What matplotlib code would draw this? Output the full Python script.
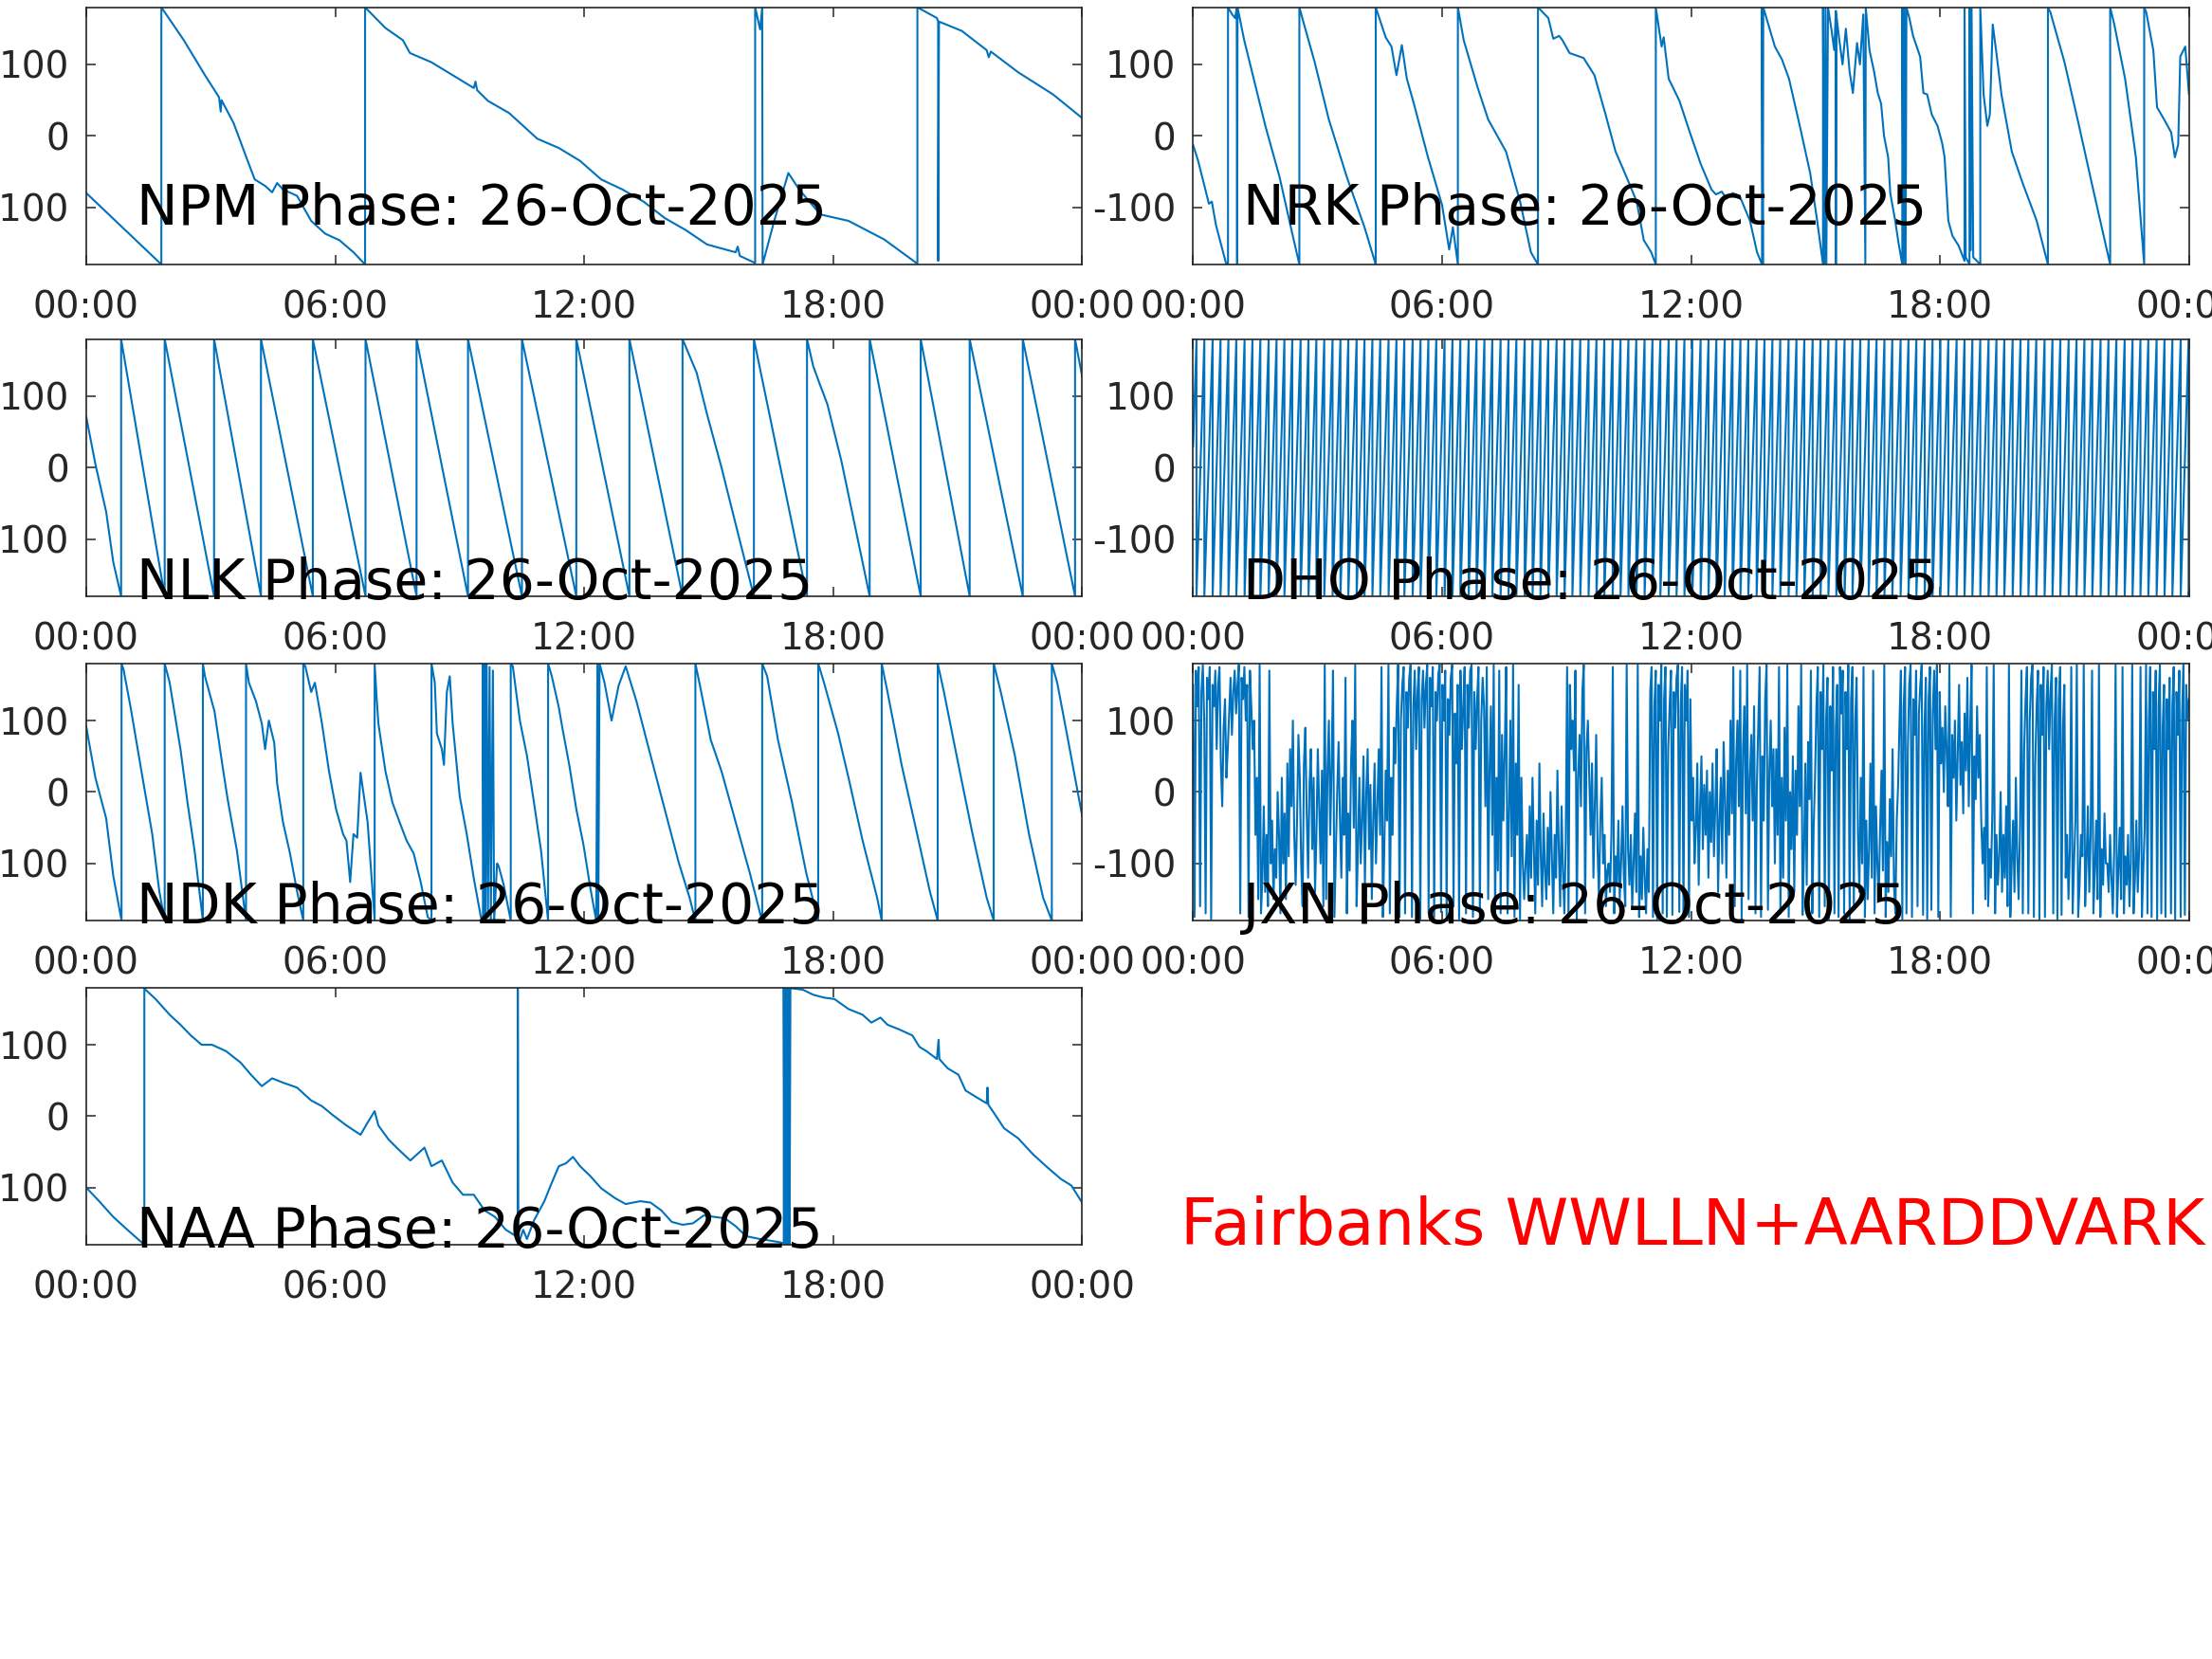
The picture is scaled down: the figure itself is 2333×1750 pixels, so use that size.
"""VLF transmitter phase, one day, seven stations (Fairbanks receiver)."""
import matplotlib
matplotlib.use("Agg")
import matplotlib.pyplot as plt
import numpy as np

plt.rcParams["axes.unicode_minus"] = False
plt.rcParams["font.family"] = "DejaVu Sans"

DAY = "26-Oct-2025"
BLUE = "#0072BD"
GREY = "#262626"

# (hour, phase deg) vertices; wraps are two points at one hour
npm = [(0, -80), (1.81, -180), (1.81, 180), (2.35, 134), (2.86, 85), (3.2, 54), (3.24, 34),
       (3.26, 50), (3.55, 18), (3.89, -35), (4.06, -61), (4.31, -70), (4.48, -79), (4.6, -66),
       (4.74, -75), (5.08, -84), (5.42, -119), (5.76, -137), (6.1, -146), (6.44, -163),
       (6.72, -180), (6.72, 180), (7.21, 151), (7.63, 134), (7.8, 116), (8.32, 103), (8.83, 85),
       (9.34, 67), (9.38, 76), (9.42, 64), (9.68, 49), (10.19, 32), (10.53, 14), (10.87, -4),
       (11.39, -17), (11.9, -35), (12.41, -61), (12.92, -75), (13.43, -92), (13.94, -115),
       (14.45, -132), (14.96, -152), (15.65, -163), (15.7, -155), (15.75, -168), (16.12, -178),
       (16.12, 180), (16.24, 149), (16.29, 180), (16.3, -180), (16.58, -119), (16.92, -52),
       (17.18, -75), (17.69, -110), (18.37, -119), (19.23, -145), (20.03, -179), (20.03, 180),
       (20.5, 165), (20.53, 160), (20.53, -175), (20.55, 160), (21.1, 147), (21.7, 120),
       (21.75, 110), (21.8, 118), (22.46, 89), (23.3, 58), (24, 25)]

nrk = [(0, -13), (0.12, -35), (0.38, -95), (0.45, -92), (0.55, -125), (0.8, -180), (0.84, -180),
       (0.84, 180), (0.94, 170), (1.01, 165), (1.05, 178), (1.06, -180), (1.07, 180), (1.23, 134),
       (1.74, 14), (2.08, -57), (2.39, -137), (2.56, -180), (2.56, 180), (2.63, 165), (2.93, 103),
       (3.27, 23), (3.7, -57), (4.13, -128), (4.4, -180), (4.4, 180), (4.64, 138), (4.78, 125),
       (4.9, 85), (5.03, 127), (5.15, 80), (5.32, 45), (5.66, -30), (6.0, -97), (6.17, -159),
       (6.26, -128), (6.38, -180), (6.38, 180), (6.52, 134), (6.86, 67), (7.11, 23), (7.54, -22),
       (7.88, -92), (8.14, -163), (8.31, -180), (8.31, 180), (8.56, 165), (8.68, 136), (8.82, 140),
       (8.9, 134), (9.07, 116), (9.41, 109), (9.67, 85), (9.93, 32), (10.18, -22), (10.44, -57),
       (10.69, -92), (10.86, -146), (11.04, -163), (11.15, -180), (11.15, 180), (11.29, 125),
       (11.34, 138), (11.46, 80), (11.72, 49), (11.97, 5), (12.23, -39), (12.49, -75), (12.6, -82),
       (12.74, -78), (12.85, -88), (13.0, -80), (13.17, -84), (13.42, -119), (13.59, -163),
       (13.71, -180), (13.71, 180), (13.73, -180), (13.74, 180), (14.02, 125), (14.19, 107),
       (14.36, 80), (14.62, 14), (14.87, -52), (15.04, -119), (15.18, -180), (15.18, 180),
       (15.21, -180), (15.24, 180), (15.26, -180), (15.3, 180), (15.38, 150), (15.45, 120),
       (15.49, 175), (15.49, -180), (15.5, 170), (15.56, 140), (15.65, 100), (15.73, 150),
       (15.82, 90), (15.9, 60), (16.0, 130), (16.07, 100), (16.15, 170), (16.2, -180), (16.21, 180),
       (16.3, 120), (16.41, 90), (16.5, 60), (16.58, 45), (16.65, 0), (16.75, -30), (16.8, -80),
       (16.92, -119), (17.0, -150), (17.09, -180), (17.09, 180), (17.12, -180), (17.14, 180),
       (17.17, -180), (17.19, 180), (17.26, 165), (17.35, 140), (17.52, 111), (17.6, 60),
       (17.69, 58), (17.8, 30), (17.94, 14), (18.05, -10), (18.11, -30), (18.2, -119), (18.3, -140),
       (18.45, -154), (18.59, -175), (18.59, 180), (18.62, -170), (18.71, -180), (18.71, 180),
       (18.74, -160), (18.76, 180), (18.8, -170), (18.97, -180), (18.97, 180), (19.05, 58),
       (19.14, 14), (19.2, 30), (19.27, 156), (19.35, 120), (19.48, 58), (19.73, -22),
       (19.99, -66), (20.33, -119), (20.6, -180), (20.6, 180), (20.66, 173), (21.0, 103),
       (21.35, 14), (21.69, -75), (22.1, -180), (22.1, 180), (22.2, 156), (22.46, 80),
       (22.72, -30), (22.92, -180), (22.92, 180), (22.97, 173), (23.14, 120), (23.23, 40),
       (23.4, 23), (23.57, 5), (23.66, -30), (23.74, -12), (23.79, 111), (23.91, 125), (24, 58)]

nlk = [(0, 71), (0.22, 5), (0.48, -62), (0.65, -132), (0.84, -180), (0.84, 180), (1.89, -180),
       (1.89, 180), (3.08, -180), (3.08, 180), (4.21, -180), (4.21, 180), (5.46, -180),
       (5.46, 180), (6.73, -180), (6.73, 180), (7.96, -180), (7.96, 180), (8.15, 124),
       (9.2, -180), (9.2, 180), (10.5, -180), (10.5, 180), (11.81, -180), (11.81, 180),
       (13.09, -180), (13.09, 180), (14.37, -180), (14.37, 180), (14.71, 133), (14.96, 75),
       (15.31, 0), (15.65, -79), (16.09, -180), (16.09, 180), (17.37, -180), (17.37, 180),
       (17.52, 142), (17.69, 115), (17.86, 89), (18.2, 9), (18.88, -180), (18.88, 180),
       (20.11, -180), (20.11, 180), (21.29, -180), (21.29, 180), (22.57, -180), (22.57, 180),
       (23.83, -180), (23.83, 180), (24, 128)]

ndk = [(0, 91), (0.22, 20), (0.48, -37), (0.65, -117), (0.85, -180), (0.85, 180), (0.9, 171),
       (1.07, 118), (1.33, 29), (1.59, -59), (1.76, -139), (1.89, -180), (1.89, 180), (2.01, 153),
       (2.27, 60), (2.44, -15), (2.61, -82), (2.81, -180), (2.81, 180), (2.86, 162), (3.09, 113),
       (3.29, 34), (3.41, -11), (3.63, -82), (3.85, -180), (3.85, 180), (3.92, 153), (4.09, 127),
       (4.23, 96), (4.31, 60), (4.4, 100), (4.53, 69), (4.6, 12), (4.74, -42), (4.91, -86),
       (5.08, -139), (5.23, -180), (5.23, 180), (5.28, 176), (5.42, 140), (5.51, 153), (5.68, 96),
       (5.85, 29), (6.02, -24), (6.19, -59), (6.27, -68), (6.36, -126), (6.44, -59), (6.53, -64),
       (6.61, 27), (6.78, -42), (6.95, -180), (6.95, 180), (7.0, 130), (7.04, 96), (7.21, 29),
       (7.38, -15), (7.55, -42), (7.72, -68), (7.89, -86), (8.06, -126), (8.23, -175), (8.32, -180),
       (8.32, 180), (8.4, 153), (8.45, 82), (8.57, 60), (8.62, 38), (8.69, 140), (8.76, 162),
       (8.83, 96), (9.0, -6), (9.17, -59), (9.34, -121), (9.51, -175), (9.56, -180), (9.56, 180),
       (9.58, -180), (9.6, 180), (9.62, -170), (9.65, 180), (9.68, -175), (9.72, 175),
       (9.75, -178), (9.8, 170), (9.83, -180), (9.9, -100), (9.94, -104), (10.06, -130),
       (10.23, -180), (10.23, 180), (10.28, 176), (10.45, 100), (10.62, 51), (10.79, -15),
       (10.96, -82), (11.13, -180), (11.13, 180), (11.22, 162), (11.39, 118), (11.47, 91),
       (11.64, 38), (11.81, -24), (11.98, -73), (12.15, -135), (12.29, -180), (12.32, 180),
       (12.34, -180), (12.37, 180), (12.49, 153), (12.66, 100), (12.83, 149), (13.0, 176),
       (13.26, 127), (13.6, 51), (13.94, -24), (14.28, -99), (14.54, -148), (14.68, -180),
       (14.68, 180), (14.79, 149), (15.05, 73), (15.31, 29), (15.65, -42), (15.99, -113),
       (16.24, -170), (16.29, -180), (16.29, 180), (16.41, 162), (16.67, 73), (17.01, -15),
       (17.35, -113), (17.64, -180), (17.64, 180), (17.78, 153), (18.12, 82), (18.37, 20),
       (18.71, -68), (19.06, -148), (19.17, -180), (19.17, 180), (19.31, 140), (19.65, 38),
       (19.99, -50), (20.33, -139), (20.52, -180), (20.52, 180), (20.67, 140), (21.02, 38),
       (21.36, -59), (21.7, -148), (21.87, -180), (21.87, 180), (22.04, 140), (22.38, 51),
       (22.72, -59), (23.06, -148), (23.27, -180), (23.27, 180), (23.4, 153), (23.66, 73),
       (24, -33)]

naa = [(0, -100), (0.31, -119), (0.65, -141), (0.99, -159), (1.4, -180), (1.4, 180), (1.43, 177),
       (1.67, 164), (1.84, 153), (2.01, 142), (2.27, 128), (2.52, 113), (2.78, 100), (3.03, 100),
       (3.37, 91), (3.72, 75), (3.97, 58), (4.23, 42), (4.48, 53), (4.74, 47), (5.08, 40),
       (5.42, 22), (5.68, 14), (5.93, 2), (6.27, -13), (6.61, -26), (6.78, -9), (6.95, 7),
       (7.04, -13), (7.29, -33), (7.55, -48), (7.81, -62), (8.15, -44), (8.32, -70), (8.57, -62),
       (8.83, -93), (9.08, -110), (9.34, -110), (9.6, -132), (9.85, -141), (10.11, -159),
       (10.36, -168), (10.4, -178), (10.4, 180), (10.41, -180), (10.53, -159), (10.62, -172),
       (10.79, -146), (11.04, -119), (11.22, -93), (11.39, -70), (11.56, -66), (11.73, -57),
       (11.9, -70), (12.15, -84), (12.41, -101), (12.75, -115), (13.0, -123), (13.35, -119),
       (13.6, -121), (13.86, -132), (14.11, -148), (14.37, -152), (14.62, -150), (14.88, -139),
       (15.14, -141), (15.39, -143), (15.65, -154), (15.9, -168), (16.24, -172), (16.67, -176),
       (16.81, -178), (16.81, 180), (16.83, -180), (16.85, 180), (16.87, -180), (16.89, 180),
       (16.91, -180), (16.93, 180), (16.95, -180), (16.97, 180), (17.0, 179), (17.27, 177),
       (17.52, 170), (17.78, 166), (18.03, 164), (18.37, 150), (18.71, 142), (18.92, 131),
       (19.14, 138), (19.31, 128), (19.57, 122), (19.91, 113), (20.08, 97), (20.25, 91),
       (20.5, 80), (20.54, 107), (20.56, 80), (20.76, 67), (21.02, 58), (21.19, 36), (21.44, 27),
       (21.7, 18), (21.72, 40), (21.74, 16), (21.87, 5), (22.12, -17), (22.46, -31), (22.81, -53),
       (23.15, -71), (23.49, -88), (23.74, -97), (24, -121)]

# DHO: fast rising sawtooth, hours at which the phase drops from +180 to -180
dho_wraps = [0.08, 0.27, 0.47, 0.66, 0.85, 1.04, 1.24, 1.43, 1.62, 1.82, 2.01, 2.20, 2.39, 2.59,
             2.78, 2.97, 3.16, 3.36, 3.55, 3.74, 3.94, 4.13, 4.32, 4.51, 4.71, 4.90, 5.09, 5.29,
             5.48, 5.67, 5.86, 6.06, 6.25, 6.44, 6.64, 6.83, 7.02, 7.21, 7.41, 7.60, 7.79, 7.99,
             8.18, 8.37, 8.56, 8.76, 8.95, 9.14, 9.33, 9.53, 9.72, 9.91, 10.11, 10.30, 10.49,
             10.68, 10.88, 11.07, 11.26, 11.46, 11.65, 11.84, 12.03, 12.23, 12.42, 12.61, 12.81,
             13.00, 13.19, 13.38, 13.58, 13.77, 13.96, 14.15, 14.35, 14.54, 14.73, 14.93, 15.12,
             15.31, 15.50, 15.70, 15.89, 16.08, 16.28, 16.47, 16.66, 16.85, 17.05, 17.24, 17.43,
             17.63, 17.82, 18.01, 18.20, 18.40, 18.59, 18.78, 18.97, 19.17, 19.36, 19.55, 19.75,
             19.94, 20.13, 20.32, 20.52, 20.71, 20.90, 21.10, 21.29, 21.48, 21.67, 21.87, 22.06,
             22.25, 22.45, 22.64, 22.83, 23.02, 23.22, 23.41, 23.60, 23.80, 23.99]
dho_first, dho_last = 30, -175

# JXN: noisy, one reading every 2 minutes (one row = half an hour)
jxn_ph = [
    150, -175, 170, 120, 175, -160, 140, 178, 100, -170, 160, 130, 175, -178, 150,
    120, 170, 60, 150, 175, 40, -20, 90, 130, 20, 60, 110, 160, 80, 140,
    170, 110, 150, 178, -170, 160, 130, 175, 100, 150, -175, 170, 120, 60, 100,
    -60, 20, -150, 178, -170, -120, -20, -140, -60, -160, 170, -100, -40, -150, -80,
    -120, 0, -60, -170, 20, -100, -30, -150, 40, -90, 60, -20, 100, -60, -130,
    -40, 80, 20, -100, -160, 40, 90, -30, -120, 10, 60, -80, 20, -140, -60,
    60, -20, -100, 30, -160, 178, -150, 30, 100, -60, 40, 170, -175, -90, 0,
    70, -40, -120, 20, -60, 160, -170, -30, -110, 40, 100, -50, 178, -160, -80,
    20, -100, -40, 50, -130, 0, 60, -80, 10, -150, -40, 40, -100, -20, 60,
    -60, 175, -175, -80, 30, -40, 178, -170, 20, -60, 90, 40, 120, 178, -175,
    100, 150, 175, -170, 140, 90, 160, 178, -175, 120, 170, 60, 140, 175, -178,
    130, 170, 90, 150, 178, -170, 160, 120, 175, -175, 140, 100, 165, 178, -168,
    150, 100, 170, -175, 130, 80, 160, 178, -160, 110, 40, 150, -178, 170, 60,
    120, 175, -170, 150, 90, 170, 178, -175, 140, 60, 130, 175, -178, 100, 160,
    120, -20, 175, -150, 30, 120, -60, 178, -170, 20, -110, 170, -170, 80, -40,
    60, 175, -170, -40, 100, -90, 178, -175, 40, -60, 150, -178, 20, -100, -150,
    -100, -60, -150, -20, -120, 20, -80, -170, -40, -130, 40, -90, -160, -30, -110,
    -150, -50, -130, 0, -90, -170, -60, -120, 30, -80, -160, -20, -110, -170, -70,
    175, -175, 150, 60, 100, 30, 170, -178, 20, 80, -20, 140, 178, -170, 60,
    100, 20, -60, 40, -120, -20, 80, -80, -150, -40, 20, -100, -60, -160, -110,
    -100, -140, -60, 175, -170, -90, -130, -40, -150, -100, -20, -120, -160, 178, -80,
    -130, -60, -160, -100, -30, -140, 178, -175, -90, -150, -50, -120, -170, -80, -140,
    140, 175, -175, 120, 170, -178, 150, 100, 178, -170, 130, 175, -175, 60, 120,
    170, -172, 140, 90, 160, 178, -168, 120, 175, -178, 150, 100, 170, -175, 130,
    -40, 20, -100, -50, 40, -130, -20, 50, -80, 10, -60, 30, -120, 0, -70,
    40, -90, -20, 60, -140, -40, 20, -100, 70, -10, -120, 30, -60, 100, -30,
    175, -160, 40, 100, -20, 170, -178, 60, 120, -30, 178, -150, 20, 80, -40,
    120, -170, 10, 90, 175, -175, 50, -40, 130, 178, -165, 30, 100, -20, 60,
    -100, 60, -60, 175, -170, 20, -120, 90, -40, 178, -175, 0, -80, 50, -140,
    30, -60, 120, -20, 178, -172, -90, 40, -130, 70, -10, 170, -170, -50, 20,
    120, 175, -175, 140, 60, 178, -160, 100, 160, -178, 120, 30, 175, -170, 90,
    150, -175, 175, 110, 170, -170, 140, 60, 178, -178, 130, 175, -165, 100, 160,
    -60, -140, 20, -100, 175, -175, -40, -150, -80, 40, -120, 170, -170, -20, -100,
    -150, -50, 30, -110, 178, -175, -70, -140, -10, -90, 60, -130, -170, -40, 10,
    100, 170, -178, 120, 175, -170, 60, 150, 178, -175, 130, 80, 170, -160, 110,
    150, 178, -172, 90, 160, -178, 130, 175, -165, 110, 170, 60, 178, -175, 140,
    40, 90, 0, 120, 60, -20, 178, -175, 80, 20, 100, -40, 50, 150, 10,
    70, -30, 110, 30, 160, -20, 90, 178, -170, 50, -10, 120, 20, 80, -40,
    -100, -50, -150, 175, -160, -80, -120, -30, 178, -170, -60, -130, -90, 0, -140,
    -60, -120, -20, -160, 178, -175, -100, -40, -140, 20, -90, -150, -50, 170, -170,
    60, 130, 175, -170, 100, 160, 178, -175, 40, 120, 170, -178, 150, 80, 175,
    -175, 120, 170, 60, 140, 178, -170, 100, 160, -178, 130, 175, -172, 90, 150,
    -120, -60, -150, -80, 175, -170, -100, -40, 178, -175, -130, -60, -90, 178, -160,
    -100, -20, -140, -60, 170, -170, -110, -40, -150, 178, -175, -80, -130, -30, -100,
    -100, -140, -60, -120, -170, -80, 178, -175, -110, -50, -150, 175, -170, -90, -130,
    -60, -160, -100, 178, -170, -120, -40, -140, -80, 175, -175, -110, -50, 178, -170,
    100, 175, -175, 140, 60, 170, -178, 120, 178, -170, 90, 150, -175, 130, 60,
    160, -170, 120, 175, -178, 140, 80, 170, -175, 110, 178, -172, 150, 100, 130,
]

xticks = [0, 6, 12, 18, 24]
xticklabels = ["00:00", "06:00", "12:00", "18:00", "00:00"]
yticks = [-100, 0, 100]
yticklabels = ["-100", "0", "100"]

# panel boxes in figure fractions [left, bottom, width, height]
LEFT, RIGHT = 0.0390, 0.5394
WIDTH = 0.4502
HEIGHT = 0.155
ROWS = [0.8406, 0.6406, 0.4451, 0.2497]


def dho_series():
    t, ph = [0.0], [dho_first]
    for w in dho_wraps:
        t += [w, w]
        ph += [180, -180]
    t.append(24.0)
    ph.append(dho_last)
    return t, ph


def style(ax):
    ax.set_xlim(0, 24)
    ax.set_ylim(-180, 180)
    ax.set_xticks(xticks)
    ax.set_xticklabels(xticklabels)
    ax.set_yticks(yticks)
    ax.set_yticklabels(yticklabels)
    ax.tick_params(direction="in", length=7, width=1.1, colors=GREY, labelsize=28,
                   top=True, right=True, pad=13)
    ax.tick_params(axis="x", pad=19)
    for s in ax.spines.values():
        s.set_color(GREY)
        s.set_linewidth(1.2)


def panel(fig, rect, t, ph, name, text_y):
    ax = fig.add_axes(rect)
    ax.plot(t, ph, color=BLUE, linewidth=1.5)
    style(ax)
    ax.text(0.050, text_y, f"{name} Phase: {DAY}", transform=ax.transAxes,
            fontsize=42, color="black", va="baseline", ha="left", zorder=5, clip_on=False)
    return ax


fig = plt.figure(figsize=(23.33, 17.5), dpi=100)

pairs = {"NPM": npm, "NRK": nrk, "NLK": nlk, "NDK": ndk, "NAA": naa}
layout = [("NPM", LEFT, 0), ("NRK", RIGHT, 0), ("NLK", LEFT, 1), ("DHO", RIGHT, 1),
          ("NDK", LEFT, 2), ("JXN", RIGHT, 2), ("NAA", LEFT, 3)]

for name, left, row in layout:
    if name == "DHO":
        t, ph = dho_series()
    elif name == "JXN":
        ph = jxn_ph
        t = np.linspace(0, 24, len(jxn_ph))
    else:
        t, ph = zip(*pairs[name])
    text_y = 0.155 if row == 0 else -0.012
    panel(fig, [left, ROWS[row], WIDTH, HEIGHT], t, ph, name, text_y)

fig.text(0.5337, 0.2497, "Fairbanks WWLLN+AARDDVARK", color="red", fontsize=48.5,
         ha="left", va="baseline")

fig.savefig("out.png", dpi=100)
